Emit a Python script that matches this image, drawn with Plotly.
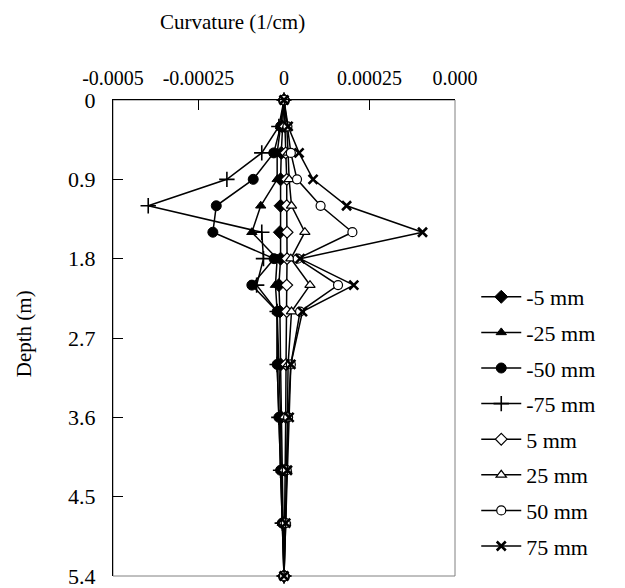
import plotly.graph_objects as go

depth = [0, 0.3, 0.6, 0.9, 1.2, 1.5, 1.8, 2.1, 2.4, 3.0, 3.6, 4.2, 4.8, 5.4]

neg5 = [0, -0.000005, -0.000008, -0.00001, -0.00001, -0.000012, -0.00001, -0.000015, -0.000012, -0.00001, -0.000008, -0.000005, -0.000003, 0]
neg25 = [0, -0.00001, -0.00002, -0.00002, -0.000068, -0.000094, -0.00002, -0.000025, -0.00002, -0.000015, -0.00001, -0.000008, -0.000005, 0]
neg50 = [0, -0.00001, -0.00003, -0.00009, -0.000198, -0.000208, -0.000029, -0.000094, -0.00002, -0.00002, -0.000015, -0.00001, -0.000005, 0]
neg75 = [0, -0.000015, -0.000065, -0.000167, -0.000397, -0.000065, -0.00006, -0.00008, -0.00002, -0.00002, -0.000015, -0.00001, -0.000005, 0]
pos5 = [0, 0.000003, 0.000005, 0.000008, 0.000008, 0.000009, 0.000009, 0.000008, 0.000008, 0.000006, 0.000005, 0.000003, 0.000002, 0]
pos25 = [0, 0.000008, 0.000012, 0.000015, 0.000022, 0.000061, 0.00002, 0.000076, 0.000022, 0.000012, 0.00001, 0.000008, 0.000005, 0]
pos50 = [0, 0.00001, 0.00002, 0.000038, 0.000107, 0.0002, 0.00004, 0.000158, 0.000047, 0.00002, 0.000012, 0.000008, 0.000005, 0]
pos75 = [0, 0.000012, 0.000044, 0.000085, 0.000183, 0.000405, 0.000047, 0.000204, 0.000054, 0.00002, 0.000015, 0.00001, 0.000005, 0]

names = ["-5 mm", "-25 mm", "-50 mm", "-75 mm", "5 mm", "25 mm", "50 mm", "75 mm"]
series = [neg5, neg25, neg50, neg75, pos5, pos25, pos50, pos75]

x_tickvals = [-0.0005, -0.00025, 0, 0.00025, 0.0005]
x_ticktext = ["-0.0005", "-0.00025", "0", "0.00025", "0.000"]
y_tickvals = [0, 0.9, 1.8, 2.7, 3.6, 4.5, 5.4]
y_ticktext = ["0", "0.9", "1.8", "2.7", "3.6", "4.5", "5.4"]

FONT = "Liberation Serif, Times New Roman, serif"

styles = [
    dict(symbol="diamond", size=10, color="black", line=dict(color="black", width=1)),
    dict(symbol="triangle-up", size=9, color="black", line=dict(color="black", width=1)),
    dict(symbol="circle", size=10, color="black", line=dict(color="black", width=1)),
    dict(symbol="cross-thin", size=11, color="black", line=dict(color="black", width=1.6)),
    dict(symbol="diamond", size=9, color="white", line=dict(color="black", width=1.2)),
    dict(symbol="triangle-up", size=9, color="white", line=dict(color="black", width=1.2)),
    dict(symbol="circle", size=9, color="white", line=dict(color="black", width=1.2)),
    dict(symbol="x-thin", size=9, color="black", line=dict(color="black", width=2.6)),
]

fig = go.Figure()
for i, (nm, vals, st) in enumerate(zip(names, series, styles)):
    fig.add_trace(go.Scatter(
        x=vals, y=depth, name=nm, mode="lines+markers",
        line=dict(color="black", width=1.5),
        marker=st, cliponaxis=False, legendgroup=f"g{i}",
    ))

fig.update_layout(
    width=625, height=588,
    margin=dict(l=113, r=170, t=100, b=12, autoexpand=False),
    paper_bgcolor="white", plot_bgcolor="white",
    font=dict(family=FONT, color="black", size=20),
    showlegend=True,
    legend=dict(
        xref="container", yref="container",
        x=0.762, xanchor="left", y=1 - 276 / 588, yanchor="top",
        font=dict(family=FONT, size=22, color="black"),
        tracegroupgap=4, bgcolor="rgba(0,0,0,0)", itemwidth=40,
        borderwidth=0,
    ),
    xaxis=dict(
        side="top", range=[-0.0005, 0.0005],
        tickvals=x_tickvals, ticktext=x_ticktext,
        ticks="inside", ticklen=10, tickcolor="black",
        showline=True, linecolor="black", linewidth=1,
        showgrid=False, zeroline=False,
        tickfont=dict(family=FONT, size=20, color="black"),
        ticklabelstandoff=6, ticklabeloverflow="allow",
    ),
    yaxis=dict(
        range=[5.4, 0],
        tickvals=y_tickvals, ticktext=y_ticktext,
        ticks="inside", ticklen=10, tickcolor="black",
        showline=True, linecolor="black", linewidth=1,
        showgrid=False, zeroline=False,
        tickfont=dict(family=FONT, size=22, color="black"),
        ticklabelstandoff=12, ticklabeloverflow="allow",
    ),
    shapes=[dict(type="rect", xref="paper", yref="paper", x0=0, x1=1, y0=0, y1=1,
                 line=dict(color="#808080", width=1), layer="below")],
    annotations=[
        dict(text="Curvature (1/cm)", xref="paper", yref="paper", x=0.348, y=1.164,
             showarrow=False, font=dict(family=FONT, size=21, color="black"),
             xanchor="center", yanchor="middle"),
        dict(text="Depth (m)", xref="paper", yref="paper", x=-0.26, y=0.508,
             showarrow=False, textangle=-90, font=dict(family=FONT, size=21, color="black"),
             xanchor="center", yanchor="middle"),
    ],
)

fig.write_html("out.html")
